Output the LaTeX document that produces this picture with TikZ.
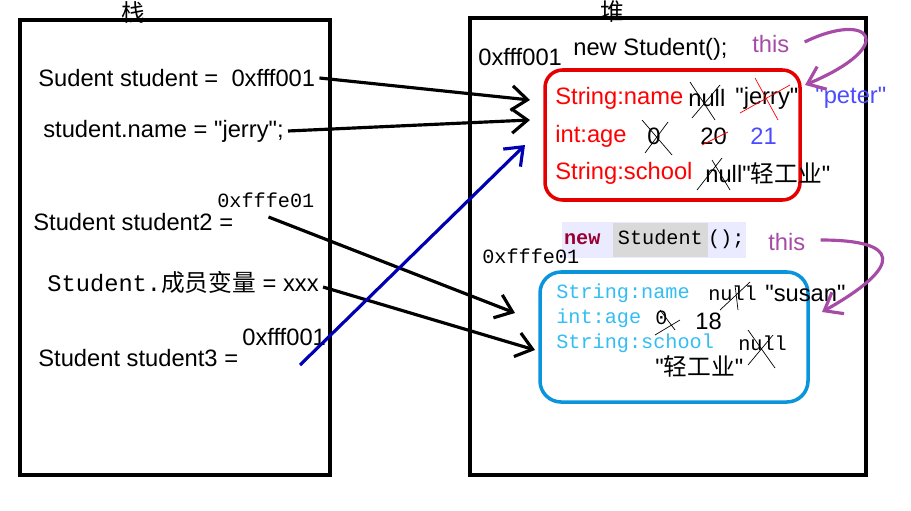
\documentclass[tikz,border=0pt]{standalone}
\usepackage{fontspec}
\setmainfont{Liberation Sans}
\setmonofont{Liberation Mono}
\newfontfamily\cjk{Noto Sans CJK SC}
\usetikzlibrary{arrows.meta}
\newcommand\zh[1]{{\cjk #1}}
\newcommand\q{\textquotedbl}
\begin{document}
\begin{tikzpicture}[x=0.02cm,y=-0.02cm,
txt/.style={anchor=west,inner sep=0pt,font=\fontsize{13.5}{15}\selectfont},
mono/.style={anchor=west,inner sep=0pt,font=\ttfamily\fontsize{11.5}{13}\selectfont},
frame/.style={draw,line width=2pt},
ptr/.style={line width=1.8pt,-{Straight Barb[length=9pt,width=14pt,line width=1.8pt]}},
this/.style={draw=violet!70,line width=1.8pt,-{Straight Barb[length=9pt,width=14pt,line width=1.8pt]}},
cross/.style={black,thin}
]
\useasboundingbox (0,0) rectangle (911,510);
% stack and heap
\draw[frame] (20,20) rectangle (330,475);
\draw[frame] (470,18) rectangle (866,475);
\node[txt,anchor=center] (stk) at (133,12) {\zh{栈}};
\node[txt,anchor=center] (hp) at (612,12) {\zh{堆}};
% stack texts
\node[txt] (s1) at (38,78) {Sudent student =\ \ 0xfff001};
\node[txt] (s2) at (43,131) {student.name = \q jerry\q;};
\node[mono] (a2) at (217,200) {0xfffe01};
\node[txt] (s3) at (33,222) {Student student2 =};
\node[txt] (s4) at (47,282) {{\ttfamily Student.}\zh{成员变量} = xxx};
\node[txt] (a3) at (242,337) {0xfff001};
\node[txt] (s5) at (38,358) {Student student3 =};
% first object
\node[txt] (h1) at (478,57) {0xfff001};
\node[txt] (n1) at (573,49) {new Student();};
\node[txt,violet!70] (t1) at (752,44) {this};
\draw[red!90!black,line width=2pt,rounded corners=10pt] (545,70) rectangle (800,200);
\node[txt,red] (f1) at (555,98) {String:name};
\node[txt] (v1) at (688,98) {null};
\node[txt] (v2) at (735,98) {\q jerry\q};
\node[txt,blue!70] (v3) at (815,98) {\q peter\q};
\node[txt,red] (f2) at (555,136) {int:age};
\node[txt] (v4) at (647,136) {0};
\node[txt] (v5) at (700,136) {20};
\node[txt,blue!70] (v6) at (750,136) {21};
\node[txt,red] (f3) at (555,173) {String:school};
\node[txt] (v7) at (705,173) {null\q\zh{轻工业}\q};
\draw[cross] (690,82)--(715,120) (720,85)--(692,118) (642,120)--(672,155) (668,122)--(645,153)
 (712,160)--(730,190) (722,158)--(697,190);
\draw[red,thin] (740,113)--(790,85) (755,78)--(778,120) (702,145)--(728,132);
% second object
\node[mono,fill=blue!8,inner sep=1pt] (n2) at (562,240) {\textcolor{purple!80!black}{\bfseries new} \colorbox{black!15}{\strut Student}();};
\node[mono] (h2) at (482,256) {0xfffe01};
\node[txt,violet!70] (t2) at (768,242) {this};
\draw[draw=cyan!80!blue,line width=2pt,rounded corners=12pt] (540,272) rectangle (808,402);
\node[mono,cyan!80] (g1) at (556,293) {String:name};
\node[mono] (w1) at (708,293) {null};
\node[txt] (w2) at (765,293) {\q susan\q};
\node[mono,cyan!80] (g2) at (556,318) {int:age};
\node[mono] (w3) at (655,318) {0};
\node[txt] (w4) at (695,321) {18};
\node[mono,cyan!80] (g3) at (556,343) {String:school};
\node[mono] (w5) at (738,343) {null};
\node[txt] (w6) at (655,366) {\q\zh{轻工业}\q};
\draw[cross] (720,310)--(750,282) (735,285)--(738,310) (655,335)--(680,320) (660,310)--(675,330)
 (748,330)--(775,368) (773,335)--(748,365);
% pointers
\draw[ptr] (s1.east) ++(4,0) -- (530,100);
\draw[ptr] (s2.east) ++(4,0) -- (530,120);
\draw[ptr] (s3.east) ++(35,-5) -- (515,313);
\draw[ptr] (s4.east) ++(4,5) -- (535,350);
\draw[ptr,blue!70!black] (300,365) -- (525,145);
\path (t1.east) ++(15,-2) coordinate (c1) (t2.east) ++(15,-2) coordinate (c2);
\draw[this] (c1) .. controls (870,10) and (900,45) .. (805,85);
\draw[this] (c2) .. controls (900,240) and (905,265) .. (822,312);
\end{tikzpicture}
\end{document}
